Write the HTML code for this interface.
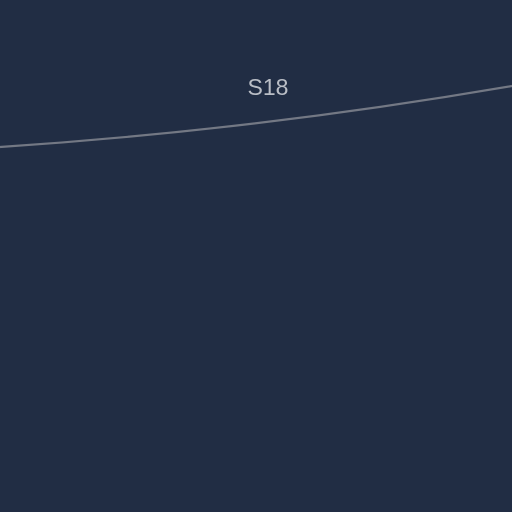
<!DOCTYPE html>
<html>
<head>
<meta charset="utf-8">
<style>
  html, body { margin: 0; padding: 0; background: #212d44; }
  svg { display: block; }
</style>
</head>
<body>
<svg width="512" height="512" viewBox="0 0 512 512">
  <rect x="0" y="0" width="512" height="512" fill="#212d44"/>
  <path d="M0,147 Q256,130 512,86" fill="none" stroke="#737884" stroke-width="2.2"/>
  <text x="268" y="95" text-anchor="middle" font-family="Liberation Sans, sans-serif" font-size="23" fill="#babec6">S18</text>
</svg>
</body>
</html>
